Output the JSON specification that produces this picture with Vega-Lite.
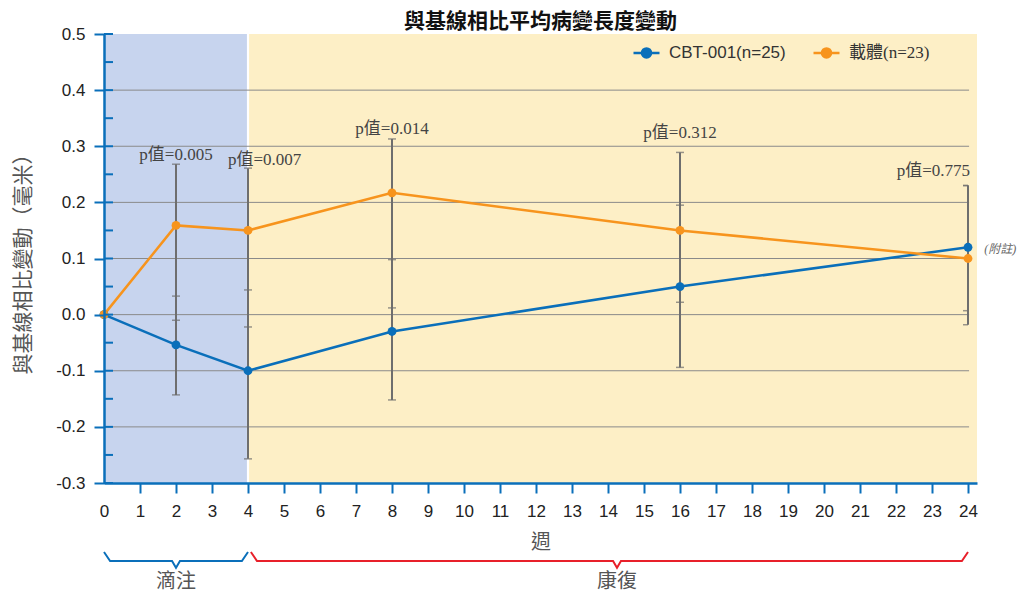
{
  "$schema": "https://vega.github.io/schema/vega-lite/v6.json",
  "width": 873,
  "height": 449,
  "autosize": "none",
  "padding": {"left": 104, "top": 34, "right": 42, "bottom": 111},
  "background": "white",
  "config": {
    "view": {"stroke": null},
    "axisX": {
      "labelOverlap": false,
      "labelFlush": false,
      "labelBound": false,
      "tickCount": 25
    },
    "axisY": {
      "labelOverlap": false,
      "labelFlush": false
    }
  },
  "title": {
    "text": "與基線相比平均病變長度變動",
    "font": "Noto Sans CJK TC",
    "fontSize": 21,
    "fontWeight": "bold",
    "color": "#111",
    "anchor": "middle",
    "offset": -7
  },
  "datasets": {
    "means": [
      {"series": "CBT-001(n=25)", "week": 0, "change": 0.0},
      {"series": "CBT-001(n=25)", "week": 2, "change": -0.054},
      {"series": "CBT-001(n=25)", "week": 4, "change": -0.100},
      {"series": "CBT-001(n=25)", "week": 8, "change": -0.030},
      {"series": "CBT-001(n=25)", "week": 16, "change": 0.050},
      {"series": "CBT-001(n=25)", "week": 24, "change": 0.120},
      {"series": "載體(n=23)", "week": 0, "change": 0.0},
      {"series": "載體(n=23)", "week": 2, "change": 0.159},
      {"series": "載體(n=23)", "week": 4, "change": 0.150},
      {"series": "載體(n=23)", "week": 8, "change": 0.217},
      {"series": "載體(n=23)", "week": 16, "change": 0.150},
      {"series": "載體(n=23)", "week": 24, "change": 0.100}
    ],
    "errs": [
      {"series": "CBT-001(n=25)", "week": 2, "lo": -0.143, "hi": 0.033},
      {"series": "CBT-001(n=25)", "week": 4, "lo": -0.257, "hi": 0.044},
      {"series": "CBT-001(n=25)", "week": 8, "lo": -0.152, "hi": 0.098},
      {"series": "CBT-001(n=25)", "week": 16, "lo": -0.094, "hi": 0.195},
      {"series": "CBT-001(n=25)", "week": 24, "lo": 0.007, "hi": 0.230},
      {"series": "載體(n=23)", "week": 2, "lo": -0.010, "hi": 0.268},
      {"series": "載體(n=23)", "week": 4, "lo": -0.022, "hi": 0.261},
      {"series": "載體(n=23)", "week": 8, "lo": 0.012, "hi": 0.313},
      {"series": "載體(n=23)", "week": 16, "lo": 0.022, "hi": 0.289},
      {"series": "載體(n=23)", "week": 24, "lo": -0.018, "hi": 0.230}
    ],
    "pvals": [
      {"label": "p值=0.005", "week": 2.0, "pos": 0.285},
      {"label": "p值=0.007", "week": 4.46, "pos": 0.276},
      {"label": "p值=0.014", "week": 8.0, "pos": 0.331},
      {"label": "p值=0.312", "week": 16.0, "pos": 0.324},
      {"label": "p值=0.775", "week": 23.04, "pos": 0.256}
    ],
    "phases": [
      {"phase": "滴注", "start": 0, "end": 3.97, "mid": 2},
      {"phase": "康復", "start": 4.03, "end": 24.25, "mid": 14.25}
    ],
    "brackets": [
      {"phase": "滴注", "week": 0.0, "pos": -0.423},
      {"phase": "滴注", "week": 0.17, "pos": -0.439},
      {"phase": "滴注", "week": 1.89, "pos": -0.439},
      {"phase": "滴注", "week": 2.0, "pos": -0.451},
      {"phase": "滴注", "week": 2.11, "pos": -0.439},
      {"phase": "滴注", "week": 3.83, "pos": -0.439},
      {"phase": "滴注", "week": 4.0, "pos": -0.423},
      {"phase": "康復", "week": 4.08, "pos": -0.423},
      {"phase": "康復", "week": 4.25, "pos": -0.439},
      {"phase": "康復", "week": 14.14, "pos": -0.439},
      {"phase": "康復", "week": 14.25, "pos": -0.451},
      {"phase": "康復", "week": 14.36, "pos": -0.439},
      {"phase": "康復", "week": 23.83, "pos": -0.439},
      {"phase": "康復", "week": 24.0, "pos": -0.423}
    ],
    "grid": [
      {"v": -0.2}, {"v": -0.1}, {"v": 0.0}, {"v": 0.1}, {"v": 0.2}, {"v": 0.3}, {"v": 0.4}
    ],
    "yticks": [
      {"v": -0.3}, {"v": -0.25}, {"v": -0.2}, {"v": -0.15}, {"v": -0.1}, {"v": -0.05},
      {"v": 0.0}, {"v": 0.05}, {"v": 0.1}, {"v": 0.15}, {"v": 0.2}, {"v": 0.25},
      {"v": 0.3}, {"v": 0.35}, {"v": 0.4}, {"v": 0.45}, {"v": 0.5}
    ]
  },
  "layer": [
    {
      "data": {"name": "phases"},
      "mark": {"type": "rect"},
      "encoding": {
        "x": {
          "field": "start", "type": "quantitative",
          "scale": {"domain": [0, 24.25], "nice": false, "zero": false},
          "axis": {
            "values": [0,1,2,3,4,5,6,7,8,9,10,11,12,13,14,15,16,17,18,19,20,21,22,23,24],
            "title": "週",
            "titleFont": "Noto Sans CJK TC",
            "titleFontSize": 20,
            "titleFontWeight": "normal",
            "titleColor": "#555",
            "titlePadding": 13,
            "domainColor": "#0a6fba",
            "domainWidth": 2.5,
            "tickColor": "#0a6fba",
            "tickWidth": 2,
            "tickSize": 10,
            "tickOpacity": {"condition": {"test": "datum.value == 0", "value": 0}, "value": 1},
            "labelFont": "Liberation Sans Narrow, Liberation Sans",
            "labelFontSize": 17,
            "labelColor": "#222",
            "labelPadding": 10,
            "labelFlush": false,
            "labelOverlap": false,
            "grid": false,
            "zindex": 1
          }
        },
        "x2": {"field": "end"},
        "fill": {
          "field": "phase", "type": "nominal",
          "scale": {"domain": ["滴注", "康復"], "range": ["#c7d4ee", "#fdefc6"]},
          "legend": null
        }
      }
    },
    {
      "data": {"name": "grid"},
      "mark": {"type": "rule", "color": "#8a8a8a", "strokeWidth": 1},
      "encoding": {
        "y": {
          "field": "v", "type": "quantitative",
          "scale": {"domain": [-0.3, 0.5], "nice": false, "zero": false},
          "axis": {
            "values": [-0.3,-0.25,-0.2,-0.15,-0.1,-0.05,0,0.05,0.1,0.15,0.2,0.25,0.3,0.35,0.4,0.45,0.5],
            "labelExpr": "abs(round(datum.value*100)) % 10 == 0 ? (datum.value < 0 ? '-' : '') + format(abs(datum.value), '.1f') : ''",
            "title": "與基線相比變動（毫米）",
            "titleFont": "Noto Sans CJK TC",
            "titleFontSize": 21,
            "titleFontWeight": "normal",
            "titleColor": "#555",
            "titlePadding": 22,
            "domainColor": "#0a6fba",
            "domainWidth": 2.5,
            "tickColor": "#0a6fba",
            "tickWidth": 2,
            "tickSize": 10,
            "labelFont": "Liberation Sans Narrow, Liberation Sans",
            "labelFontSize": 17,
            "labelColor": "#222",
            "labelPadding": 9,
            "labelFlush": false,
            "labelOverlap": false,
            "grid": false,
            "zindex": 1
          }
        },
        "x": {"datum": 0.25, "type": "quantitative"},
        "x2": {"datum": 24.03}
      }
    },
    {
      "data": {"name": "errs"},
      "mark": {"type": "rule", "color": "#6e6e6e", "strokeWidth": 2},
      "encoding": {
        "x": {"field": "week", "type": "quantitative"},
        "y": {"field": "lo", "type": "quantitative"},
        "y2": {"field": "hi"}
      }
    },
    {
      "data": {"name": "errs"},
      "transform": [{"filter": "datum.week < 24"}],
      "mark": {"type": "tick", "orient": "horizontal", "color": "#6e6e6e", "size": 8, "thickness": 1.5},
      "encoding": {
        "x": {"field": "week", "type": "quantitative"},
        "y": {"field": "lo", "type": "quantitative"}
      }
    },
    {
      "data": {"name": "errs"},
      "transform": [{"filter": "datum.week < 24"}],
      "mark": {"type": "tick", "orient": "horizontal", "color": "#6e6e6e", "size": 8, "thickness": 1.5},
      "encoding": {
        "x": {"field": "week", "type": "quantitative"},
        "y": {"field": "hi", "type": "quantitative"}
      }
    },
    {
      "data": {"name": "errs"},
      "transform": [{"filter": "datum.week == 24"}],
      "mark": {"type": "tick", "orient": "horizontal", "color": "#6e6e6e", "size": 5, "thickness": 1.5, "xOffset": -2.5},
      "encoding": {
        "x": {"field": "week", "type": "quantitative"},
        "y": {"field": "lo", "type": "quantitative"}
      }
    },
    {
      "data": {"name": "errs"},
      "transform": [{"filter": "datum.week == 24"}],
      "mark": {"type": "tick", "orient": "horizontal", "color": "#6e6e6e", "size": 5, "thickness": 1.5, "xOffset": -2.5},
      "encoding": {
        "x": {"field": "week", "type": "quantitative"},
        "y": {"field": "hi", "type": "quantitative"}
      }
    },
    {
      "data": {"name": "means"},
      "mark": {"type": "line", "strokeWidth": 2.5, "point": {"filled": true, "size": 78, "opacity": 1}},
      "encoding": {
        "x": {"field": "week", "type": "quantitative"},
        "y": {"field": "change", "type": "quantitative"},
        "color": {
          "field": "series", "type": "nominal",
          "scale": {"domain": ["CBT-001(n=25)", "載體(n=23)"], "range": ["#0a6fba", "#f7941d"]},
          "legend": {
            "orient": "none",
            "legendX": 528,
            "legendY": 4,
            "direction": "horizontal",
            "title": null,
            "padding": 0,
            "symbolType": "M-1,0L1,0M0.35,0A0.35,0.35,0,1,1,-0.35,0A0.35,0.35,0,1,1,0.35,0",
            "symbolSize": 676,
            "symbolStrokeWidth": 2.5,
            "labelFontSize": 17,
            "labelFont": "Liberation Sans",
            "labelColor": "#333",
            "labelOffset": 8,
            "columnPadding": 22,
            "encode": {
              "symbols": {"update": {
                "fill": {"scale": "color", "field": "value"},
                "stroke": {"scale": "color", "field": "value"},
                "opacity": {"value": 1}
              }},
              "labels": {"update": {
                "font": {"signal": "datum.value == '載體(n=23)' ? 'Liberation Serif, Noto Sans CJK TC' : 'Liberation Sans'"}
              }}
            }
          }
        }
      }
    },
    {
      "data": {"name": "pvals"},
      "mark": {"type": "text", "font": "Liberation Serif, Noto Sans CJK TC", "fontSize": 17, "color": "#444", "align": "center", "baseline": "middle"},
      "encoding": {
        "x": {"field": "week", "type": "quantitative"},
        "y": {"field": "pos", "type": "quantitative"},
        "text": {"field": "label"}
      }
    },
    {
      "data": {"name": "pvals"},
      "transform": [{"filter": "datum.week == 23.04"}],
      "mark": {"type": "text", "text": "(附註)", "font": "Liberation Serif, Noto Sans CJK TC", "fontSize": 12, "fontStyle": "italic", "color": "#666", "align": "left", "baseline": "middle"},
      "encoding": {
        "x": {"datum": 24.45, "type": "quantitative"},
        "y": {"datum": 0.117, "type": "quantitative"}
      }
    },
    {
      "data": {"name": "brackets"},
      "mark": {"type": "line", "strokeWidth": 2, "clip": false},
      "encoding": {
        "x": {"field": "week", "type": "quantitative"},
        "y": {"field": "pos", "type": "quantitative"},
        "stroke": {
          "field": "phase", "type": "nominal",
          "scale": {"domain": ["滴注", "康復"], "range": ["#0a6fba", "#e8202a"]},
          "legend": null
        }
      }
    },
    {
      "data": {"name": "phases"},
      "mark": {"type": "text", "font": "Noto Sans CJK TC", "fontSize": 20, "color": "#555", "align": "center", "baseline": "middle"},
      "encoding": {
        "x": {"field": "mid", "type": "quantitative"},
        "y": {"datum": -0.477, "type": "quantitative"},
        "text": {"field": "phase"}
      }
    },
    {
      "data": {"name": "yticks"},
      "mark": {"type": "rule", "color": "#0a6fba", "strokeWidth": 2},
      "encoding": {
        "y": {"field": "v", "type": "quantitative"},
        "x": {"datum": 0, "type": "quantitative"},
        "x2": {"datum": 0.25}
      }
    }
  ]
}
